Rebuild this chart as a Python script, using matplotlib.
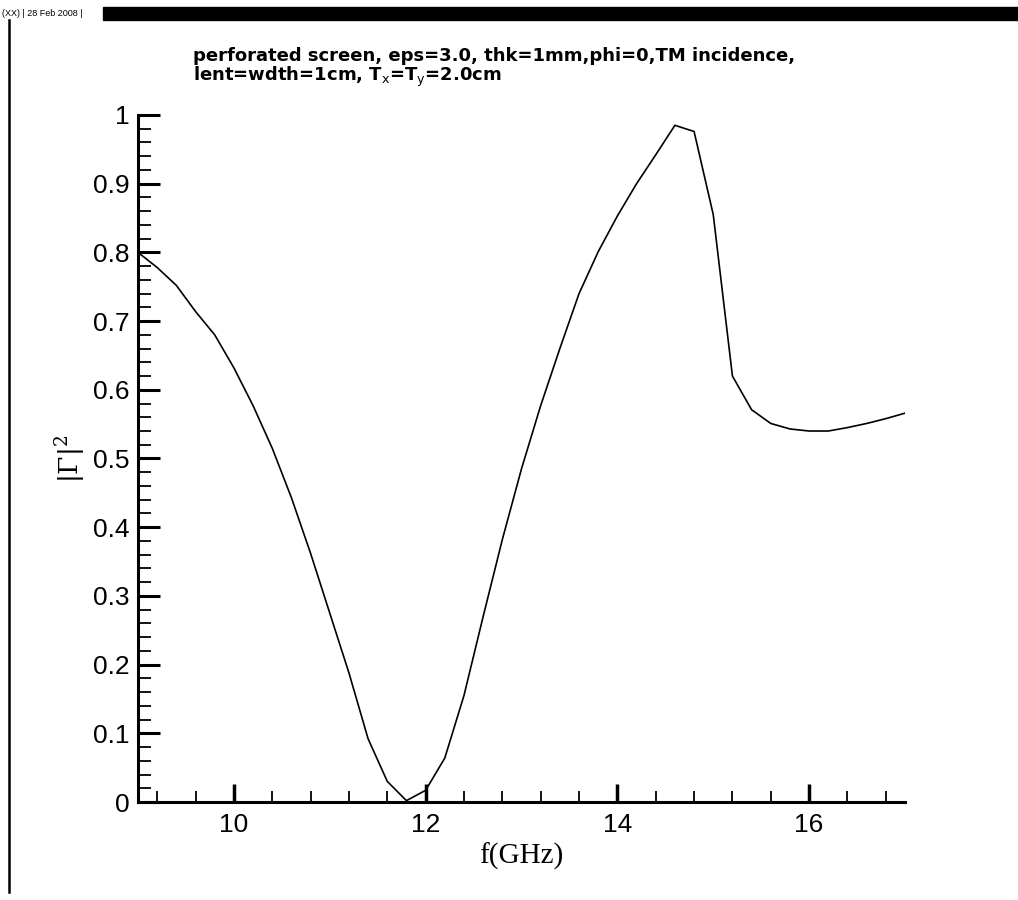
import matplotlib
matplotlib.use("Agg")
import matplotlib.pyplot as plt
from matplotlib.ticker import MultipleLocator, FuncFormatter
from matplotlib.patches import Rectangle
from matplotlib.lines import Line2D

# ---- data ----
freq_ghz = [9.0, 9.2, 9.4, 9.6, 9.8, 10.0, 10.2, 10.4, 10.6, 10.8,
            11.0, 11.2, 11.4, 11.6, 11.8, 12.0, 12.2, 12.4, 12.6, 12.8,
            13.0, 13.2, 13.4, 13.6, 13.8, 14.0, 14.2, 14.4, 14.6, 14.8,
            15.0, 15.2, 15.4, 15.6, 15.8, 16.0, 16.2, 16.4, 16.6, 16.8, 17.0]
gamma_sq = [0.800, 0.778, 0.752, 0.714, 0.680, 0.632, 0.577, 0.515, 0.443, 0.362,
            0.275, 0.188, 0.092, 0.030, 0.002, 0.017, 0.064, 0.155, 0.270, 0.382,
            0.485, 0.577, 0.660, 0.740, 0.801, 0.853, 0.900, 0.942, 0.985, 0.976,
            0.855, 0.620, 0.571, 0.551, 0.543, 0.540, 0.540, 0.545, 0.551, 0.558, 0.566]
x_major_ticks = [10, 12, 14, 16]
title_line1 = "perforated screen, eps=3.0, thk=1mm,phi=0,TM incidence,"
title_line2 = r"lent=wdth=1cm, T$_{\mathrm{x}}$=T$_{\mathrm{y}}$=2.0cm"
header_text = "(XX) | 28 Feb 2008 |"

W, H = 1018, 900
fig = plt.figure(figsize=(W / 100, H / 100), dpi=100)
sans = ['Liberation Sans Narrow', 'Liberation Sans', 'DejaVu Sans']
plt.rcParams['mathtext.fontset'] = 'dejavusans'

# header bar
fig.patches.append(Rectangle((103 / W, 1 - 20 / H), 1 - 103 / W, 13 / H,
                             transform=fig.transFigure, color='black', zorder=0))
fig.text(2 / W, 1 - 14 / H, header_text, fontsize=6.5, family=sans,
         va='center', ha='left', color='black')
# left frame line
fig.lines.append(Line2D([9 / W, 9 / W], [1 - 20 / H, 1 - 892 / H],
                        transform=fig.transFigure, color='black', lw=1.8))

ax = fig.add_axes([138 / W, 1 - 802 / H, (905 - 138) / W, (802 - 115) / H])
ax.plot(freq_ghz, gamma_sq, color='black', lw=1.2, solid_joinstyle='miter')
ax.set_xlim(9, 17)
ax.set_ylim(0, 1)

for s in ['top', 'right']:
    ax.spines[s].set_visible(False)
for s in ['left', 'bottom']:
    ax.spines[s].set_linewidth(2.2)

ax.xaxis.set_major_locator(plt.FixedLocator(x_major_ticks))
ax.xaxis.set_minor_locator(MultipleLocator(0.4))
ax.yaxis.set_major_locator(MultipleLocator(0.1))
ax.yaxis.set_minor_locator(MultipleLocator(0.02))
ax.yaxis.set_major_formatter(FuncFormatter(lambda v, p: '%g' % round(v, 2)))

ax.tick_params(axis='x', which='major', direction='in', length=13, width=2.5,
               labelsize=19, pad=8)
ax.tick_params(axis='x', which='minor', direction='in', length=8, width=1.3)
ax.tick_params(axis='y', which='major', direction='in', length=16, width=2.2,
               labelsize=19, pad=6)
ax.tick_params(axis='y', which='minor', direction='in', length=9, width=1.3)
for lab in ax.get_xticklabels() + ax.get_yticklabels():
    lab.set_family(sans)

ax.set_xlabel('f(GHz)', family=['Liberation Serif', 'DejaVu Serif'], fontsize=21,
              labelpad=4)
ax.set_ylabel(r'$|\Gamma|^2$', fontsize=19)
ax.yaxis.label.set_math_fontfamily('dejavuserif')
ax.yaxis.label.set_verticalalignment('center')
ax.yaxis.set_label_coords((71 - 138) / 767, 0.5)

title_font = ['DejaVu Sans']
fig.text(193 / W, 1 - 61 / H, title_line1, fontsize=13, fontweight='bold',
         family=title_font, ha='left', va='baseline')
fig.text(193 / W, 1 - 81 / H, title_line2, fontsize=13, fontweight='bold',
         family=title_font, ha='left', va='baseline')

fig.savefig('out.png', dpi=100)
